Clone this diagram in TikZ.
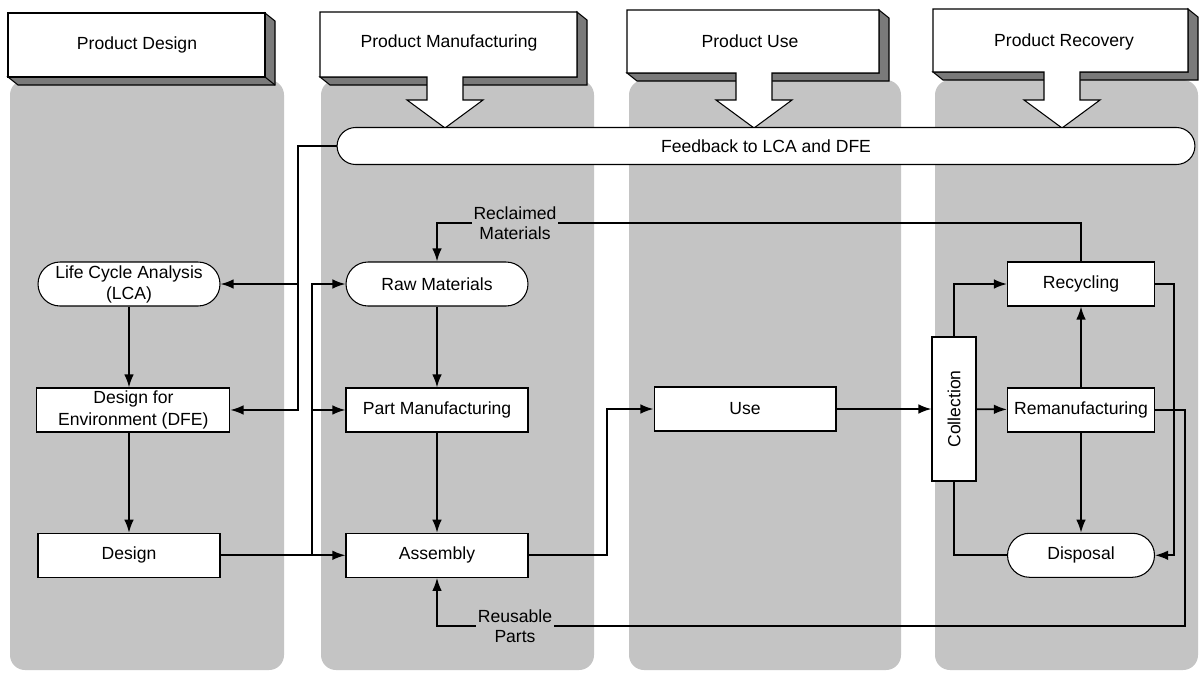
\documentclass[tikz,border=0pt]{standalone}
\usepackage{fontspec}
\setmainfont{Liberation Sans}
\usepackage{xcolor}
\usetikzlibrary{arrows.meta,positioning}

\colorlet{panel}{black!23}
\colorlet{shade}{black!52}

\begin{document}
\begin{tikzpicture}[x=0.02cm,y=-0.02cm,->,>={Latex[length=7.5pt,width=5.5pt]},line width=0.95pt,node distance=2.52cm,
    every node/.style={font=\fontsize{10}{12}\selectfont},
    box/.style={rectangle,draw,fill=white,line width=0.6pt,minimum width=3.64cm,minimum height=0.88cm,align=center,inner sep=1pt},
    stadium/.style={box,rounded corners=0.44cm},
    column/.style={-,fill=panel,rounded corners=0.3cm},
    face/.style={-,draw,fill=white,line width=0.6pt},
    side/.style={-,draw,fill=shade,line width=0.6pt},
    tag/.style={fill=panel,align=center,inner sep=1pt,font=\fontsize{10}{11.5}\selectfont}]

    \fill[white] (0,0) rectangle (1202,673);
    \useasboundingbox (0,0) rectangle (1202,673);

    % the four phases
    \fill[column] (10,80) rectangle (284,670);
    \fill[column] (321,80) rectangle (594,670);
    \fill[column] (629,80) rectangle (901,670);
    \fill[column] (935,80) rectangle (1198,670);

    % raised headers
    \draw[side] (265,13) -- (275,21) -- (275,85) -- (18,85) -- (8,77) -- (265,77) -- cycle;
    \draw[face] (8,13) rectangle (265,77);
    \draw[-,line width=0.6pt] (265,77) -- (275,85);
    \node (hdesign) at (137,45) {Product Design};

    \draw[side] (577,12) -- (587,20) -- (587,85) -- (330,85) -- (320,77) -- (577,77) -- cycle;
    \draw[face] (320,12) -- (577,12) -- (577,77) -- (463,77) -- (463,100) -- (483,100) -- (445,128)
        -- (407,100) -- (427,100) -- (427,77) -- (320,77) -- cycle;
    \node (hmake) at (449,43) {Product Manufacturing};

    \draw[side] (879,10) -- (889,18) -- (889,81) -- (637,81) -- (627,73) -- (879,73) -- cycle;
    \draw[face] (627,10) -- (879,10) -- (879,73) -- (772,73) -- (772,100) -- (792,100) -- (754,128)
        -- (716,100) -- (736,100) -- (736,73) -- (627,73) -- cycle;
    \node (huse) at (750,41) {Product Use};

    \draw[side] (1188,9) -- (1198,17) -- (1198,80) -- (943,80) -- (933,72) -- (1188,72) -- cycle;
    \draw[face] (933,9) -- (1188,9) -- (1188,72) -- (1080,72) -- (1080,100) -- (1100,100) -- (1062,128)
        -- (1024,100) -- (1044,100) -- (1044,72) -- (933,72) -- cycle;
    \node (hrecover) at (1064,42) {Product Recovery};

    \node[box,rounded corners=0.37cm,minimum width=17.16cm,minimum height=0.74cm] (fb) at (766,146) {Feedback to LCA and DFE};

    % design column
    \node[stadium] (lca) at (129,284) {Life Cycle Analysis\\(LCA)};
    \node[box,minimum width=3.86cm] (dfe) [below of=lca, xshift=2.5] {Design for\\Environment (DFE)};
    \node[box] (design) [below of=dfe, xshift=-2.5, yshift=-11] {Design};

    % manufacturing column
    \node[stadium] (raw) at (437,284) {Raw Materials};
    \node[box] (part) [below of=raw] {Part Manufacturing};
    \node[box] (asm) [below of=part, yshift=-11] {Assembly};

    \node[box] (use) at (745,409) {Use};

    % recovery column
    \node[box,minimum width=2.94cm] (rec) at (1081,284) {Recycling};
    \node[box,minimum width=2.94cm] (reman) [below of=rec] {Remanufacturing};
    \node[stadium,minimum width=2.94cm] (disp) [below of=reman, yshift=-11] {Disposal};
    \node[box,rotate=90,minimum width=2.88cm] (coll) at (954,409) {Collection};

    \coordinate (fbdrop) at (298,146);
    \coordinate (mbus) at (312,0);
    \coordinate (ubus) at (607,0);
    \coordinate (rbus) at (1174,0);
    \coordinate (pbus) at (1185,626);
    \coordinate (mline) at (0,223);

    \draw (fb.west) -- (fbdrop) |- (dfe);
    \draw (fbdrop |- lca) -- (lca);
    \draw (lca) -- (lca |- dfe.north);
    \draw (design |- dfe.south) -- (design);

    \draw (design) -- (asm);
    \draw (mbus |- asm) |- (raw);
    \draw (mbus |- part) -- (part);
    \draw (raw) -- (part);
    \draw (part) -- (asm);

    \draw (asm) -| (ubus |- use) -- (use);
    \draw (use) -- (coll);

    \draw (coll) |- (rec);
    \draw (coll) -- (reman);
    \draw[-] (coll) |- (disp);
    \draw (reman) -- (rec);
    \draw (reman) -- (disp);
    \draw (rec) -| (rbus |- disp) -- (disp);

    \draw (rec) |- (mline -| raw) -- (raw);
    \draw (reman) -| (pbus) -| (asm);

    \node[tag] (reclaimed) at (515,223) {Reclaimed\\Materials};
    \node[tag] (reusable) at (515,626) {Reusable\\Parts};
\end{tikzpicture}
\end{document}
